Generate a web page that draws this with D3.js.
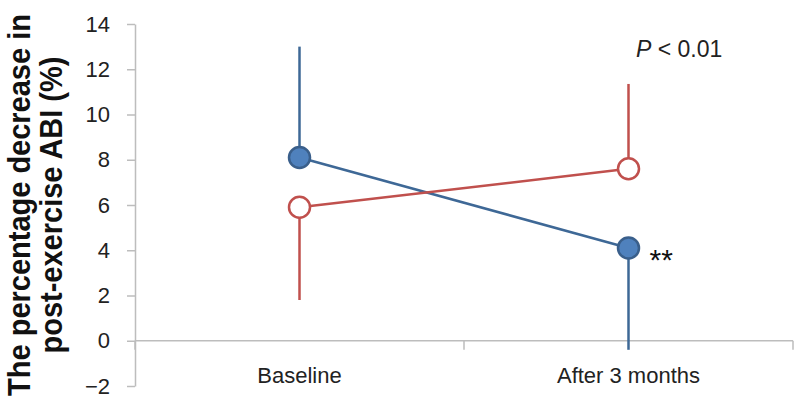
<!DOCTYPE html>
<html>
<head>
<meta charset="utf-8">
<script src="https://cdn.jsdelivr.net/npm/d3@7"></script>
<style>
  body { margin: 0; background: #fff; }
  svg { display: block; font-family: "Liberation Sans", Arial, sans-serif; }
</style>
</head>
<body>
<div id="chart"></div>
<script>
// chart values
const categories = ["Baseline", "After 3 months"];
const blueMean = [8.1, 4.1];
const blueErr = [4.9, 4.5];
const blueErrDir = [1, -1];   // bar drawn up (+1) or down (-1)
const redMean = [5.9, 7.6];
const redErr = [4.1, 3.75];
const redErrDir = [-1, 1];
const yTicks = [-2, 0, 2, 4, 6, 8, 10, 12, 14];

const width = 798, height = 411;

const svg = d3.select("#chart")
    .append("svg")
    .attr("width", width)
    .attr("height", height);

// scales
const x = d3.scaleBand().domain(categories).range([135, 793]);
const y = d3.scaleLinear().domain([-2, 14]).range([386, 24]);
const cx = d => x(d) + x.bandwidth() / 2;

const axisColor = "#bdbdbd";
const textColor = "#222";

// y axis
const yAxis = svg.append("g")
    .attr("transform", "translate(135,0)")
    .call(d3.axisLeft(y).tickValues(yTicks).tickSize(8).tickSizeOuter(0)
        .tickFormat(d => d < 0 ? "\u2212" + Math.abs(d) : d));
yAxis.select(".domain").attr("stroke", axisColor).attr("stroke-width", 1.5);
yAxis.selectAll(".tick line").attr("stroke", axisColor).attr("stroke-width", 1.5);
yAxis.selectAll(".tick text")
    .attr("x", -25)
    .attr("fill", textColor)
    .style("font-size", "22px");

// x axis line at zero
const xAxis = svg.append("g")
    .attr("transform", `translate(0,${y(0)})`);
xAxis.append("line")
    .attr("x1", 135).attr("x2", 793)
    .attr("stroke", axisColor).attr("stroke-width", 1.5);
xAxis.selectAll(".cat-tick")
    .data([135, x(categories[1]), 793])
    .enter().append("line")
    .attr("x1", d => d).attr("x2", d => d)
    .attr("y1", 0).attr("y2", 9)
    .attr("stroke", axisColor).attr("stroke-width", 1.5);

svg.selectAll(".cat-label")
    .data(categories)
    .enter().append("text")
    .attr("x", d => cx(d))
    .attr("y", 383)
    .attr("text-anchor", "middle")
    .attr("fill", textColor)
    .style("font-size", "22px")
    .text(d => d);

// y title
const title = svg.append("text")
    .attr("transform", "translate(30,205) rotate(-90) scale(1,1.1)")
    .attr("text-anchor", "middle")
    .attr("font-weight", "bold")
    .attr("fill", "#111")
    .style("font-size", "29px");
title.append("tspan").attr("x", 0).attr("y", 0).text("The percentage decrease in");
title.append("tspan").attr("x", 0).attr("y", 29).text("post-exercise ABI (%)");

// series
const series = [
    { mean: blueMean, err: blueErr, dir: blueErrDir, line: "#3e6896", stroke: "#3a5f8b", fill: "#4f81bd" },
    { mean: redMean, err: redErr, dir: redErrDir, line: "#c0504d", stroke: "#c0504d", fill: "#ffffff" }
];

const lineGen = d3.line().x((d, i) => cx(categories[i])).y(d => y(d));

series.forEach(s => {
    svg.append("g").selectAll("line")
        .data(s.mean)
        .enter().append("line")
        .attr("x1", (d, i) => cx(categories[i]))
        .attr("x2", (d, i) => cx(categories[i]))
        .attr("y1", d => y(d))
        .attr("y2", (d, i) => y(d + s.dir[i] * s.err[i]))
        .attr("stroke", s.line)
        .attr("stroke-width", 2.5);
});

series.forEach(s => {
    svg.append("path")
        .datum(s.mean)
        .attr("d", lineGen)
        .attr("fill", "none")
        .attr("stroke", s.line)
        .attr("stroke-width", 2.5);
});

series.forEach(s => {
    svg.append("g").selectAll("circle")
        .data(s.mean)
        .enter().append("circle")
        .attr("cx", (d, i) => cx(categories[i]))
        .attr("cy", d => y(d))
        .attr("r", 10.5)
        .attr("fill", s.fill)
        .attr("stroke", s.stroke)
        .attr("stroke-width", 2.5);
});

// annotations
const pText = svg.append("text")
    .attr("x", 636)
    .attr("y", 57)
    .attr("fill", textColor)
    .style("font-size", "23px");
pText.append("tspan").attr("font-style", "italic").text("P");
pText.append("tspan").text(" < 0.01");

svg.append("text")
    .attr("x", cx(categories[1]) + 21)
    .attr("y", y(blueMean[1]) + 22)
    .attr("fill", "#111")
    .style("font-size", "30px")
    .text("**");
</script>
</body>
</html>
